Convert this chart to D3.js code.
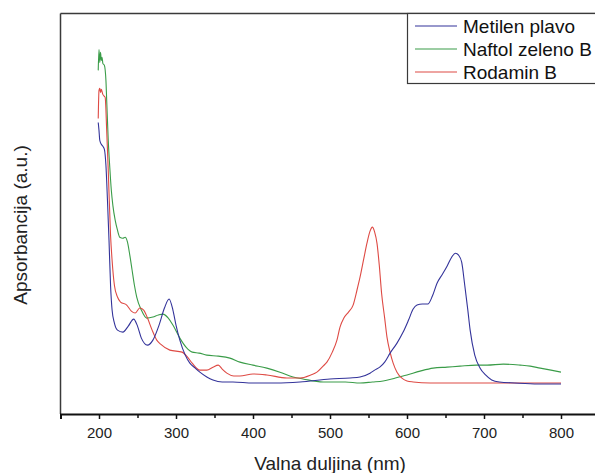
<!DOCTYPE html>
<html><head><meta charset="utf-8">
<script src="https://cdn.jsdelivr.net/npm/d3@7"></script>
<style>
html,body{margin:0;padding:0;background:#fff;}
svg{display:block;font-family:"Liberation Sans",Arial,sans-serif;}
</style></head>
<body>
<svg id="chart" width="595" height="473"></svg>
<script>
// Wavelength (nm) and absorbance (a.u.) per series
const seriesNames = ["Metilen plavo", "Naftol zeleno B", "Rodamin B"];
const seriesColors = ["#33339a", "#3a9c48", "#de4a44"];

const blueNm = [199,200,201,203,205,207,209,211,213,215,217,220,224,231,238,245,250,255,263,270,278,285,291,296,300,305,312,318,325,331,340,348,360,374,400,430,461,500,526,539,552,558,565,571,578,587,595,602,608,613,620,627,633,639,646,652,658,663,667,671,675,679,682,688,695,702,710,720,740,770,800];
const blueAbs = [1.456,1.416,1.367,1.347,1.337,1.322,1.242,1.067,0.868,0.643,0.519,0.454,0.419,0.409,0.439,0.474,0.439,0.379,0.344,0.369,0.444,0.529,0.574,0.519,0.444,0.369,0.294,0.254,0.229,0.209,0.185,0.170,0.160,0.160,0.155,0.155,0.160,0.175,0.180,0.185,0.204,0.219,0.235,0.259,0.304,0.354,0.409,0.469,0.524,0.544,0.549,0.549,0.589,0.653,0.698,0.738,0.783,0.803,0.793,0.758,0.643,0.519,0.419,0.294,0.229,0.195,0.170,0.160,0.155,0.150,0.150];

const greenNm = [199,200,201,202,203,204,205,207,209,210,212,214,216,218,221,224,227,231,234,237,240,243,246,249,255,262,270,277,283,290,296,305,313,321,330,340,355,370,383,400,418,435,452,465,491,520,539,555,569,585,600,617,634,652,669,690,704,725,747,760,773,787,800];
const greenAbs = [1.716,1.820,1.756,1.806,1.766,1.781,1.751,1.741,1.666,1.566,1.367,1.232,1.117,1.042,0.968,0.918,0.883,0.878,0.883,0.858,0.793,0.718,0.643,0.584,0.519,0.479,0.484,0.494,0.499,0.479,0.444,0.379,0.334,0.309,0.304,0.294,0.289,0.279,0.259,0.244,0.229,0.209,0.185,0.175,0.160,0.160,0.155,0.160,0.165,0.180,0.195,0.214,0.229,0.234,0.239,0.244,0.244,0.249,0.244,0.239,0.229,0.219,0.209];

const redNm = [199,200,201,202,203,205,207,208,210,212,215,217,220,224,228,236,242,247,253,258,263,269,275,280,292,308,315,321,331,340,348,355,360,366,375,383,400,418,444,461,475,483,491,496,503,509,513,518,524,530,535,539,544,548,552,555,558,561,564,567,571,574,578,582,587,593,600,608,630,700,800];
const redAbs = [1.476,1.616,1.626,1.606,1.621,1.596,1.586,1.581,1.416,1.217,0.893,0.768,0.643,0.584,0.559,0.544,0.514,0.504,0.529,0.519,0.479,0.419,0.369,0.349,0.319,0.309,0.284,0.254,0.219,0.219,0.234,0.244,0.224,0.204,0.190,0.190,0.200,0.195,0.180,0.180,0.195,0.209,0.239,0.259,0.309,0.369,0.434,0.479,0.509,0.544,0.618,0.683,0.778,0.853,0.913,0.933,0.908,0.853,0.743,0.603,0.479,0.384,0.309,0.254,0.209,0.180,0.165,0.160,0.155,0.155,0.155];

const xTicks = [200,300,400,500,600,700,800];
const xMinorTicks = [150,250,350,450,550,650,750,850];
const xLabel = "Valna duljina (nm)";
const yLabel = "Apsorbancija (a.u.)";

const svg = d3.select("#chart");
const mLeft = 60.5, mRight = 599.5, mTop = 13.5, mBottom = 414;

const x = d3.scaleLinear().domain([150, 850]).range([mLeft, mRight]);
const y = d3.scaleLinear().domain([0, 2]).range([mBottom, mTop]);

const series = [
  {name: seriesNames[0], color: seriesColors[0], nm: blueNm, abs: blueAbs},
  {name: seriesNames[1], color: seriesColors[1], nm: greenNm, abs: greenAbs},
  {name: seriesNames[2], color: seriesColors[2], nm: redNm, abs: redAbs}
];

const line = d3.line().x(d => x(d[0])).y(d => y(d[1])).curve(d3.curveMonotoneX);

// Data lines
const drawOrder = [1, 2, 0];
drawOrder.forEach(i => {
  const s = series[i];
  svg.append("path")
    .datum(s.nm.map((v, k) => [v, s.abs[k]]))
    .attr("fill", "none")
    .attr("stroke", s.color)
    .attr("stroke-width", 1.1)
    .attr("stroke-linejoin", "round")
    .attr("d", line);
});

// Frame: top and left
svg.append("line").attr("x1", mLeft).attr("x2", 595).attr("y1", mTop).attr("y2", mTop)
  .attr("stroke", "#3a3a3a").attr("stroke-width", 1.5);
svg.append("line").attr("x1", mLeft).attr("x2", mLeft).attr("y1", mTop).attr("y2", mBottom)
  .attr("stroke", "#3a3a3a").attr("stroke-width", 1.5);

// Bottom axis
const xAxis = d3.axisBottom(x).tickValues(xTicks).tickSize(5).tickPadding(8).tickFormat(d3.format("d"));
const gx = svg.append("g").attr("transform", `translate(0,${mBottom})`).call(xAxis);
gx.select(".domain").attr("stroke", "#111").attr("stroke-width", 2);
gx.selectAll(".tick line").attr("stroke", "#111").attr("stroke-width", 1.5);
gx.selectAll(".tick text").attr("font-size", 15).attr("fill", "#222")
  .attr("font-family", "'Liberation Sans', Arial, sans-serif");

const xMinor = d3.axisBottom(x).tickValues(xMinorTicks).tickSize(4).tickFormat("");
const gm = svg.append("g").attr("transform", `translate(0,${mBottom})`).call(xMinor);
gm.select(".domain").remove();
gm.selectAll(".tick line").attr("stroke", "#111").attr("stroke-width", 1.5);

// Axis titles
svg.append("text").attr("x", 330).attr("y", 470).attr("text-anchor", "middle")
  .attr("font-size", 19).attr("fill", "#222").text(xLabel);
svg.append("text").attr("transform", "translate(27,225) rotate(-90)")
  .attr("text-anchor", "middle").attr("font-size", 19).attr("fill", "#222").text(yLabel);

// Legend
const lg = svg.append("g");
lg.append("rect").attr("x", 407.5).attr("y", mTop).attr("width", 200).attr("height", 70)
  .attr("fill", "#fff").attr("stroke", "#3a3a3a").attr("stroke-width", 1.2);
series.forEach((s, i) => {
  const yy = 26 + i * 23;
  lg.append("line").attr("x1", 415).attr("x2", 457).attr("y1", yy).attr("y2", yy)
    .attr("stroke", s.color).attr("stroke-width", 1.1);
  lg.append("text").attr("x", 463).attr("y", yy + 7).attr("font-size", 19)
    .attr("fill", "#111").text(s.name);
});
</script>
</body></html>
